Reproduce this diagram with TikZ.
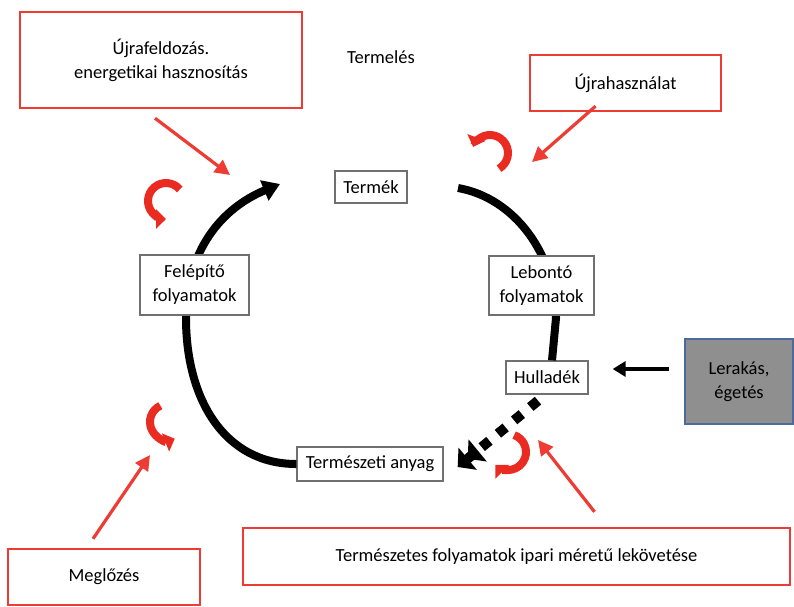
\documentclass[tikz,border=0pt]{standalone}
\usepackage{fontspec}
\setmainfont{Carlito}
\usepackage{tikz}
\usetikzlibrary{arrows.meta, calc}
\definecolor{boxred}{HTML}{EE3B33}
\definecolor{curlred}{HTML}{EA2B22}
\definecolor{boxgray}{HTML}{707070}
\definecolor{dumpfill}{HTML}{8F8F8F}
\definecolor{dumpedge}{HTML}{4C6A9C}
\tikzstyle{basefont}=[font=\fontsize{18.5}{24}\selectfont, text=black]
\tikzstyle{stage}=[basefont, draw=boxgray, line width=1.3pt, fill=white, align=center, inner sep=0pt]
\tikzstyle{strategy}=[basefont, draw=boxred, line width=2.4pt, fill=white, align=center, inner sep=0pt]
\tikzstyle{dump}=[basefont, draw=dumpedge, line width=2pt, fill=dumpfill, align=center, inner sep=0pt]
\tikzstyle{cycle}=[line width=8pt]
\tikzstyle{pointer}=[line width=3.2pt, boxred, -{Triangle[length=15pt, width=15pt]}]
\tikzstyle{curl}=[line width=8pt, curlred, -{Triangle[length=10pt, width=19pt]}]

\begin{document}
\begin{tikzpicture}[x=1pt, y=-1pt]
        \useasboundingbox (0,0) rectangle (794,606);

        % Cycle and the stages on it
        \coordinate (prodtip) at (280,184);
        \coordinate (prodtail) at (458,188);
        \node[stage, minimum width=146pt, minimum height=34pt] (anyag) at (370,464) {Természeti anyag};
        \node[stage, minimum width=82pt, minimum height=33pt] (hulladek) at (547,377.5) {Hulladék};
        \draw[cycle, -{Triangle[length=17pt, width=21pt]}] (anyag.west)
            .. controls (225,464) and (186,400) .. (186,318)
            .. controls (186,250) and (222,208) .. (prodtip);
        \draw[cycle] (prodtail)
            .. controls (515,198) and (556,255) .. (556,318)
            -- ([xshift=5pt]hulladek.north);
        \node[stage, minimum width=72pt, minimum height=32pt] (termek) at (371,187) {Termék};
        \node[stage, minimum width=109pt, minimum height=60pt] (felepito) at (194.5,285) {Felépítő\\folyamatok};
        \node[stage, minimum width=105pt, minimum height=59pt] (lebonto) at (541.5,285.5) {Lebontó\\folyamatok};
        \node[basefont] (termeles) at (381,57) {Termelés};

        % Waste back to raw material
        \draw[line width=10pt, dash pattern=on 10pt off 11pt,
              -{Triangle[length=13pt, width=28pt] Triangle[length=13pt, width=28pt]}]
            ([shift={(-9pt,-6pt)}]hulladek.south) -- ([shift={(14pt,-3pt)}]anyag.east);

        % Landfill, incineration
        \node[dump, minimum width=108pt, minimum height=85pt] (lerakas) at (739,381.5) {Lerakás,\\égetés};
        \draw[line width=3.5pt, -{Triangle[length=13pt, width=15pt]}]
            ([shift={(-15pt,12.5pt)}]lerakas.west) -- ([shift={(24pt,8.5pt)}]hulladek.east);

        % Strategies in red
        \node[strategy, minimum width=282pt, minimum height=96pt] (ujrafeld) at (161,60) {Újrafeldozás.\\energetikai hasznosítás};
        \node[strategy, minimum width=191pt, minimum height=56pt] (ujrahasz) at (625.5,83) {Újrahasználat};
        \node[strategy, minimum width=192pt, minimum height=56pt] (megelozes) at (104,577) {Meglőzés};
        \node[strategy, minimum width=547pt, minimum height=57pt] (lekovetes) at (516.5,556.5) {Természetes folyamatok ipari méretű lekövetése};

        \coordinate (ujrafeld-tip) at (230,175);
        \coordinate (ujrahasz-tip) at (532,162);
        \coordinate (megelozes-tip) at (150,455);
        \coordinate (lekovetes-tip) at (538,440);
        \draw[pointer] ([shift={(-6pt,-9pt)}]ujrafeld.south) -- (ujrafeld-tip);
        \draw[pointer] ([shift={(-30pt,6pt)}]ujrahasz.south) -- (ujrahasz-tip);
        \draw[pointer] ([shift={(-11pt,9pt)}]megelozes.north) -- (megelozes-tip);
        \draw[pointer] ([shift={(78pt,15pt)}]lekovetes.north) -- (lekovetes-tip);

        % Small turning arrows at each strategy (centre, start and end angle)
        \foreach \x/\y/\sa/\ea in {
            166/201/-40/-270,
            490/153/60/-160,
            168/422/-115/-292,
            508/452/-70/135
        }{
            \draw[curl] ($(\x,\y)+(\sa:18)$) arc[start angle=\sa, end angle=\ea, radius=18];
        }
\end{tikzpicture}
\end{document}
